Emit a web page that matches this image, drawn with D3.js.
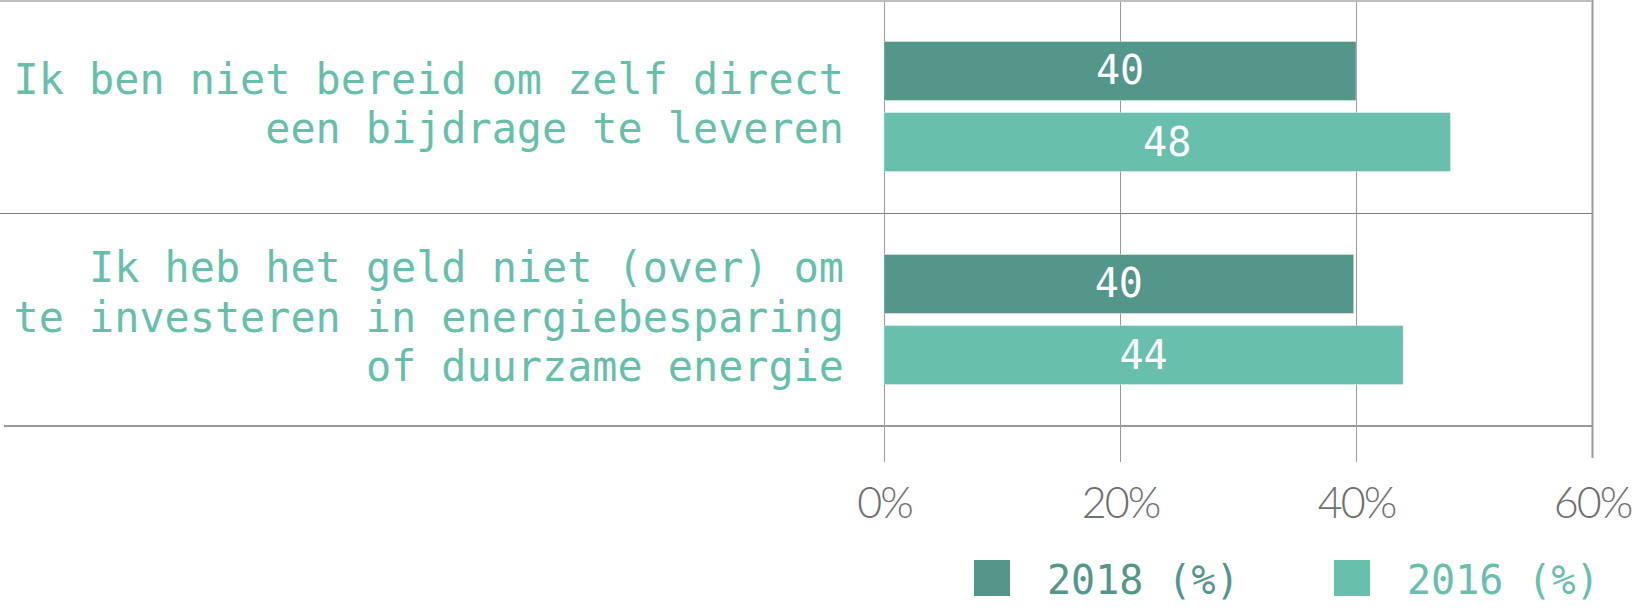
<!DOCTYPE html>
<html>
<head>
<meta charset="utf-8">
<script src="https://cdn.jsdelivr.net/npm/d3@7"></script>
<style>
  html, body { margin: 0; padding: 0; background: #fff; }
  svg { display: block; }
</style>
</head>
<body>
<svg id="chart" width="1632" height="611"></svg>
<script>
// ---- data ----
const categories = [
  ["Ik ben niet bereid om zelf direct", "een bijdrage te leveren"],
  ["Ik heb het geld niet (over) om", "te investeren in energiebesparing", "of duurzame energie"]
];
const categoryKeys = ["cat1", "cat2"];
const seriesNames = ["2018 (%)", "2016 (%)"];
const values2018 = [40, 39.8];
const values2016 = [48, 44];
const tickValues = [0, 20, 40, 60];
const tickLabels = ["0%", "20%", "40%", "60%"];

const colors = ["#53968a", "#68bfab"];
const labelColor = "#66bfaa";
const mono = "'DejaVu Sans Mono', monospace";

const svg = d3.select("#chart");

const x = d3.scaleLinear().domain([0, 60]).range([884, 1592]);
const y = d3.scaleBand().domain(categoryKeys).range([0, 426]).padding(0);
const inner = d3.scaleBand().domain(seriesNames)
  .range([41.5, y.bandwidth() - 41.5]).paddingInner(0.17);

const rows = categoryKeys.map((k, i) => ({
  key: k, lines: categories[i],
  vals: [values2018[i], values2016[i]]
}));

// ---- vertical grid / axis ----
const axis = d3.axisBottom(x).tickValues(tickValues)
  .tickFormat((d, i) => tickLabels[i])
  .tickSize(462).tickPadding(25);
const gx = svg.append("g").attr("class", "x-axis").call(axis);
gx.select(".domain").remove();
gx.selectAll(".tick line").attr("stroke", "#9a9a9a").attr("stroke-width", 1);
gx.selectAll(".tick").filter(d => d === 60).select("line")
  .attr("stroke-width", 2).attr("y2", 458);
gx.selectAll(".tick text")
  .attr("fill", "#6f6f6f")
  .style("font-family", "Lato, 'Open Sans', sans-serif")
  .style("font-weight", 300)
  .style("font-size", "43px")
  .style("letter-spacing", "-2px");

// ---- horizontal separators ----
svg.append("line").attr("x1", 0).attr("x2", x(60)).attr("y1", 1).attr("y2", 1)
  .attr("stroke", "#bdbdbd").attr("stroke-width", 2);
svg.append("line").attr("x1", 0).attr("x2", x(60))
  .attr("y1", y("cat2") + 0.5).attr("y2", y("cat2") + 0.5)
  .attr("stroke", "#808080").attr("stroke-width", 1);
svg.append("line").attr("x1", 4).attr("x2", x(60))
  .attr("y1", y.range()[1]).attr("y2", y.range()[1])
  .attr("stroke", "#999").attr("stroke-width", 2);

// ---- bars ----
const groups = svg.selectAll("g.row").data(rows).join("g")
  .attr("class", "row")
  .attr("transform", d => `translate(0,${y(d.key)})`);

groups.selectAll("rect").data(d => d.vals.map((v, j) => ({ v, s: seriesNames[j], j })))
  .join("rect")
  .attr("x", x(0))
  .attr("y", d => inner(d.s))
  .attr("width", d => x(d.v) - x(0))
  .attr("height", inner.bandwidth())
  .attr("fill", d => colors[d.j])
  .attr("stroke", "#ffffff").attr("stroke-opacity", 0.35).attr("stroke-width", 1);

groups.selectAll("text.val").data(d => d.vals.map((v, j) => ({ v, s: seriesNames[j], j })))
  .join("text")
  .attr("class", "val")
  .attr("x", d => (x(0) + x(d.v)) / 2)
  .attr("y", d => inner(d.s) + inner.bandwidth() / 2 + 13.5)
  .attr("text-anchor", "middle")
  .attr("fill", "#fff")
  .style("font-family", mono)
  .style("font-size", "40px")
  .text(d => d3.format(".0f")(d.v));

// ---- category labels ----
const lineH = 49.5;
groups.append("text")
  .attr("text-anchor", "end")
  .attr("fill", labelColor)
  .style("font-family", mono)
  .style("font-size", "41.8px")
  .each(function (d) {
    const n = d.lines.length;
    const t = d3.select(this);
    d.lines.forEach((ln, i) => {
      t.append("tspan")
        .attr("x", 844)
        .attr("y", y.bandwidth() / 2 + (i - (n - 1) / 2) * lineH + 12)
        .text(ln);
    });
  });

// ---- legend ----
const legendX = [974, 1334];
const lg = svg.append("g").selectAll("g").data(seriesNames).join("g")
  .attr("transform", (d, i) => `translate(${legendX[i]},560)`);
lg.append("rect").attr("width", 36).attr("height", 36)
  .attr("fill", (d, i) => colors[i]);
lg.append("text").attr("x", 73).attr("y", 34)
  .attr("fill", (d, i) => colors[i])
  .style("font-family", mono)
  .style("font-size", "40px")
  .text(d => d);
</script>
</body>
</html>
